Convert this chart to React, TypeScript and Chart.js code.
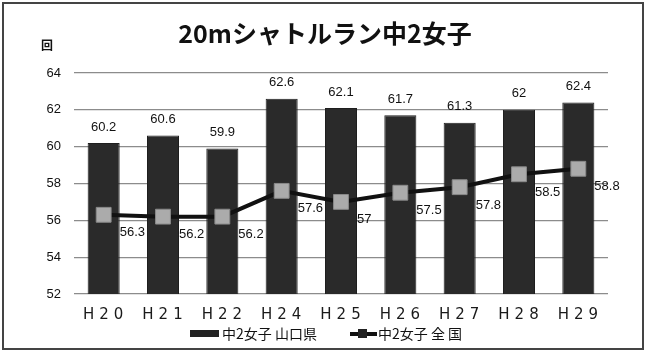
import React, { useEffect, useRef } from "react";
import { Chart, registerables } from "chart.js";

Chart.register(...registerables);

const categories = ["H20", "H21", "H22", "H24", "H25", "H26", "H27", "H28", "H29"];
const yamaguchi = [60.2, 60.6, 59.9, 62.6, 62.1, 61.7, 61.3, 62, 62.4];
const national = [56.3, 56.2, 56.2, 57.6, 57, 57.5, 57.8, 58.5, 58.8];
const barLabel = "中2女子 山口県";
const lineLabel = "中2女子 全 国";
const titleText = "20mシャトルラン中2女子";
const unitText = "回";

const NUM_FONT = "13px 'Liberation Sans', Arial, sans-serif";
const JP = "'Noto Sans CJK JP', 'Noto Sans', sans-serif";

const overlay = {
  id: "overlay",
  afterDatasetsDraw(chart: any) {
    const ctx = chart.ctx;
    ctx.save();
    ctx.font = NUM_FONT;
    ctx.fillStyle = "#111";
    ctx.textBaseline = "middle";
    const barMeta = chart.getDatasetMeta(1);
    barMeta.data.forEach((el: any, i: number) => {
      ctx.textAlign = "center";
      ctx.fillText(String(yamaguchi[i]), el.x, el.y - 16);
    });
    const lineMeta = chart.getDatasetMeta(0);
    lineMeta.data.forEach((el: any, i: number) => {
      ctx.textAlign = "left";
      ctx.fillText(String(national[i]), el.x + 16, el.y + 18);
    });
    ctx.restore();
    // spacing for x axis labels (drawn next, z > 0)
    (ctx as any).letterSpacing = "5px";
  },
  afterDraw(chart: any) {
    const ctx = chart.ctx;
    (ctx as any).letterSpacing = "0px";
    ctx.save();
    // frame
    ctx.strokeStyle = "#444";
    ctx.lineWidth = 2;
    ctx.strokeRect(3, 3, 640, 346);
    // title
    ctx.fillStyle = "#111";
    ctx.font = `bold 25px ${JP}`;
    ctx.textAlign = "center";
    ctx.textBaseline = "middle";
    ctx.fillText(titleText, 325, 33);
    // unit
    ctx.font = `bold 12px ${JP}`;
    ctx.fillText(unitText, 47, 45);
    // legend
    ctx.fillStyle = "#222";
    ctx.fillRect(190, 330, 29, 7);
    ctx.font = `14px ${JP}`;
    ctx.textAlign = "left";
    ctx.fillStyle = "#111";
    ctx.fillText(barLabel, 222, 334);
    ctx.strokeStyle = "#111";
    ctx.lineWidth = 4;
    ctx.beginPath();
    ctx.moveTo(350, 334);
    ctx.lineTo(377, 334);
    ctx.stroke();
    ctx.fillStyle = "#222";
    ctx.fillRect(358, 329, 9, 9);
    ctx.fillStyle = "#111";
    ctx.fillText(lineLabel, 378, 334);
    ctx.restore();
  },
};

export default function App() {
  const ref = useRef<HTMLCanvasElement>(null);
  useEffect(() => {
    document.body.style.margin = "0";
    const chart = new Chart(ref.current!, {
      type: "bar",
      data: {
        labels: categories,
        datasets: [
          {
            type: "line",
            label: lineLabel,
            data: national,
            borderColor: "#111",
            borderWidth: 4,
            pointStyle: "rect",
            pointRadius: 10.5,
            pointBackgroundColor: "#ababab",
            pointBorderColor: "#8a8a8a",
            pointBorderWidth: 1,
            order: 0,
          } as any,
          {
            type: "bar",
            label: barLabel,
            data: yamaguchi,
            backgroundColor: "#2a2a2a",
            borderColor: "#1e1e1e",
            borderWidth: 1,
            categoryPercentage: 1,
            barPercentage: 0.54,
            order: 1,
          },
        ],
      },
      options: {
        responsive: false,
        animation: false,
        layout: { padding: { left: 0, top: 73, right: 39, bottom: 0 } },
        plugins: { legend: { display: false }, tooltip: { enabled: false }, title: { display: false } },
        scales: {
          x: {
            grid: { display: false },
            border: { display: false },
            ticks: {
              z: 1,
              padding: 4,
              labelOffset: 2,
              color: "#1a1a1a",
              font: { family: "'DejaVu Sans', sans-serif", size: 15 },
            },
            afterFit(scale: any) {
              scale.height = 61;
            },
          },
          y: {
            min: 52,
            max: 64,
            ticks: {
              stepSize: 2,
              padding: 13,
              color: "#111",
              font: { family: "'Liberation Sans', Arial, sans-serif", size: 13 },
            },
            grid: { color: "#8c8c8c", lineWidth: 1.2, drawTicks: false },
            border: { display: false },
            afterFit(scale: any) {
              scale.width = 74;
            },
          },
        },
      },
      plugins: [overlay],
    });
    return () => chart.destroy();
  }, []);
  return <canvas ref={ref} width={647} height={355} style={{ display: "block" }} />;
}
